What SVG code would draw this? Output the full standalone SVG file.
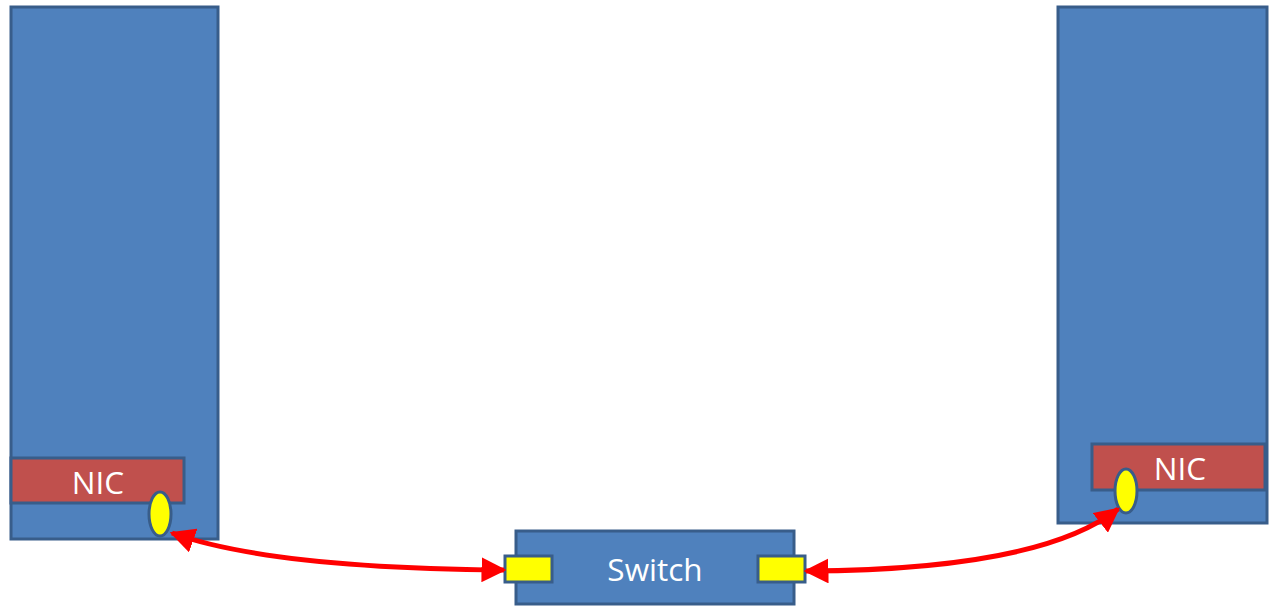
<svg xmlns="http://www.w3.org/2000/svg" width="1271" height="607" viewBox="0 0 1271 607">
<style>
.box{fill:#4f81bd;stroke:#385d8a;stroke-width:3}
.nic{fill:#c0504d;stroke:#385d8a;stroke-width:3}
.port{fill:#ffff00;stroke:#385d8a;stroke-width:3}
.lbl{font-family:"Open Sans","Liberation Sans",sans-serif;font-size:31.5px;fill:#ffffff;text-anchor:middle;dominant-baseline:central}
.link{fill:none;stroke:#ff0000;stroke-width:5}
</style>
<defs>
<marker id="ah" viewBox="0 0 10 10" refX="9" refY="5" markerWidth="5" markerHeight="5" markerUnits="strokeWidth" orient="auto-start-reverse">
<path d="M0,0 L10,5 L0,10 Z" fill="#ff0000"/>
</marker>
</defs>
<g id="server-left">
<rect class="box" x="11" y="7" width="207" height="532"/>
</g>
<g id="nic-left">
<rect class="nic" x="11" y="458" width="173" height="45"/>
<text class="lbl" x="98" y="481">NIC</text>
</g>
<g id="port-nic-left">
<ellipse class="port" cx="160" cy="514" rx="11" ry="22"/>
</g>
<g id="server-right">
<rect class="box" x="1058" y="7" width="209" height="516"/>
</g>
<g id="nic-right">
<rect class="nic" x="1092" y="444" width="173" height="46"/>
<text class="lbl" x="1180" y="467">NIC</text>
</g>
<g id="port-nic-right">
<ellipse class="port" cx="1126" cy="491" rx="11" ry="22"/>
</g>
<g id="switch">
<rect class="box" x="516" y="531" width="278" height="73"/>
<text class="lbl" x="655" y="568">Switch</text>
</g>
<g id="port-switch-left">
<rect class="port" x="505" y="556" width="47" height="26"/>
</g>
<g id="port-switch-right">
<rect class="port" x="758" y="556" width="47" height="26"/>
</g>
<g id="connectors">
<path class="link" d="M172,533 Q270,568 504,570" marker-start="url(#ah)" marker-end="url(#ah)"/>
<path class="link" d="M806,571 Q1040,570 1118,509" marker-start="url(#ah)" marker-end="url(#ah)"/>
</g>
</svg>
